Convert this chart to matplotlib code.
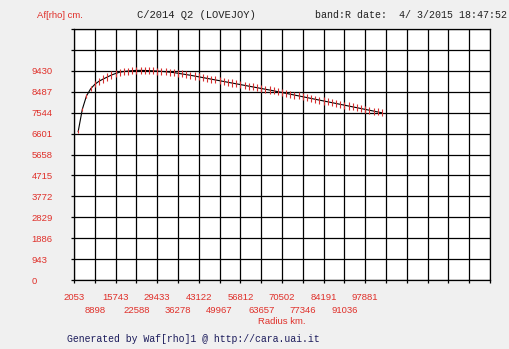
import matplotlib
matplotlib.use('Agg')
import matplotlib.pyplot as plt

# radius [km] of the measured points and the Af[rho] values [cm]
radius = [2053 + 1369*k for k in range(1, 75)]
afrho = [6690, 7696, 8300, 8620, 8820, 8960, 9060, 9150, 9240, 9310,
         9370, 9400, 9420, 9440, 9450, 9450, 9445, 9440, 9430, 9420,
         9405, 9390, 9370, 9350, 9320, 9290, 9260, 9230, 9195, 9160,
         9125, 9090, 9055, 9020, 8985, 8950, 8915, 8880, 8845, 8810,
         8775, 8740, 8705, 8670, 8635, 8600, 8565, 8530, 8490, 8452,
         8414, 8376, 8338, 8300, 8262, 8224, 8186, 8148, 8110, 8072,
         8034, 7996, 7958, 7920, 7882, 7844, 7806, 7768, 7730, 7692,
         7654, 7616, 7578, 7540]
errors = [60, 80, 100, 120, 140] + [160]*69

x_ticks = [2053 + 6845*i for i in range(21)]
x_labels = ['2053', '8898', '15743', '22588', '29433', '36278', '43122', '49967',
            '56812', '63657', '70502', '77346', '84191', '91036', '97881']
y_ticks = [943*i for i in range(13)]
y_labels = ['0', '943', '1886', '2829', '3772', '4715', '5658', '6601', '7544', '8487', '9430']

red = '#e0302a'
navy = '#1c1c5c'

fig = plt.figure(figsize=(5.09, 3.49), dpi=100, facecolor='#f0f0f0')
ax = fig.add_axes([74/509, 69/349, 416/509, 251/349])
ax.set_facecolor('white')

ax.plot(radius, afrho, color='black', linewidth=0.8, zorder=3)
ax.errorbar(radius, afrho, yerr=errors, fmt='none', ecolor='#d83030', elinewidth=0.8,
            capsize=0, zorder=4)

ax.set_xlim(x_ticks[0], x_ticks[-1])
ax.set_ylim(0, y_ticks[-1])

# even labels on the first row, odd labels one row lower
ax.set_xticks(x_ticks[0::2])
ax.set_xticklabels(x_labels[0::2] + ['']*(len(x_ticks[0::2]) - len(x_labels[0::2])),
                   family='Liberation Sans', fontsize=6.8, color=red)
ax.set_xticks(x_ticks[1::2], minor=True)
ax.set_xticklabels(x_labels[1::2] + ['']*(len(x_ticks[1::2]) - len(x_labels[1::2])),
                   minor=True, family='Liberation Sans', fontsize=6.8, color=red)
ax.set_yticks(y_ticks)
ax.set_yticklabels(y_labels + ['', ''], family='Liberation Sans', fontsize=6.8, color=red,
                   ha='left')
ax.tick_params(axis='x', which='major', direction='out', length=2.5, width=0.9, pad=7)
ax.tick_params(axis='x', which='minor', direction='out', length=2.5, width=0.9, pad=16)
ax.tick_params(axis='y', direction='out', length=2.5, width=0.9, pad=28)
ax.grid(which='both', color='black', linewidth=0.9)
ax.set_axisbelow(True)
for s in ax.spines.values():
    s.set_linewidth(0.9)

ax.set_xlabel('Radius km.', family='Liberation Sans', fontsize=6.8, color=red, labelpad=2)

fig.text(37/509, 1-15/349, 'Af[rho] cm.', family='Liberation Sans', fontsize=6.8,
         color=red, va='center')
fig.text(137/509, 1-15/349, 'C/2014 Q2 (LOVEJOY)', family='Liberation Mono', fontsize=7.6,
         color='#222222', va='center')
fig.text(507/509, 1-15/349, 'band:R date:  4/ 3/2015 18:47:52', family='Liberation Mono',
         fontsize=7.2, color='#222222', va='center', ha='right')
fig.text(67/509, 10/349, 'Generated by Waf[rho]1 @ http://cara.uai.it', family='Liberation Mono',
         fontsize=7.1, color=navy, va='center')

plt.savefig('out.png', dpi=100, facecolor=fig.get_facecolor())
